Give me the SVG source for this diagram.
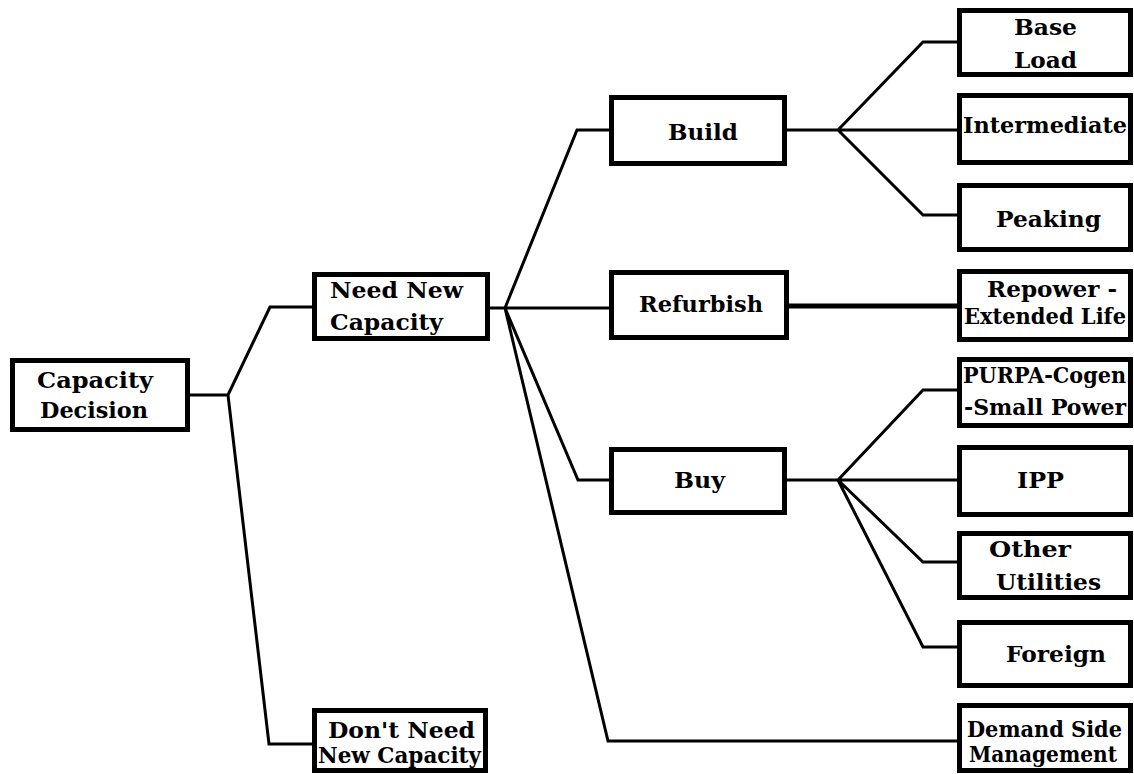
<svg xmlns="http://www.w3.org/2000/svg" width="1134" height="774" viewBox="0 0 1134 774">
<style>
.box{fill:#fff;stroke:#000;stroke-width:5}
.ln{fill:none;stroke:#000;stroke-width:3;stroke-linejoin:miter}
.thick{stroke-width:5}
text{font-family:"DejaVu Serif","Liberation Serif",serif;font-weight:bold;font-size:23px;fill:#000}
</style>
<rect width="1134" height="774" fill="#fff"/>
<g id="connectors">
<path class="ln" d="M190,395 H228 L270,307 H312 M228,395 L269,744 H312"/>
<path class="ln" d="M490,308 H609 M505,308 L577,130 H609 M505,308 L578,480 H609 M505,308 L608,741 H957"/>
<path class="ln" d="M787,130 H957 M838,130 L923,42 H957 M838,130 L923,215 H957"/>
<path class="ln thick" d="M789,306 H957"/>
<path class="ln" d="M787,480 H957 M838,480 L923,390 H957 M838,480 L923,562 H957 M838,480 L923,647 H957"/>
</g>
<g id="capacity-decision"><rect class="box" x="12.5" y="360.5" width="175" height="69"/><text x="37" y="388" textLength="116" lengthAdjust="spacingAndGlyphs">Capacity</text><text x="40" y="418" textLength="108" lengthAdjust="spacingAndGlyphs">Decision</text></g>
<g id="need-new"><rect class="box" x="314.5" y="274.5" width="173" height="64"/><text x="330" y="298" textLength="133" lengthAdjust="spacingAndGlyphs">Need New</text><text x="330" y="330" textLength="113" lengthAdjust="spacingAndGlyphs">Capacity</text></g>
<g id="dont-need"><rect class="box" x="314.5" y="710.5" width="171" height="60"/><text x="328" y="738" textLength="147" lengthAdjust="spacingAndGlyphs">Don't Need</text><text x="318" y="763" textLength="163" lengthAdjust="spacingAndGlyphs">New Capacity</text></g>
<g id="build"><rect class="box" x="611.5" y="97.5" width="173" height="66"/><text x="668" y="140" textLength="70" lengthAdjust="spacingAndGlyphs">Build</text></g>
<g id="refurbish"><rect class="box" x="611.5" y="272.5" width="175" height="65"/><text x="639" y="312" textLength="124" lengthAdjust="spacingAndGlyphs">Refurbish</text></g>
<g id="buy"><rect class="box" x="611.5" y="449.5" width="173" height="63"/><text x="674" y="488" textLength="51" lengthAdjust="spacingAndGlyphs">Buy</text></g>
<g id="base-load"><rect class="box" x="959.5" y="10.5" width="171" height="64"/><text x="1014" y="35" textLength="63" lengthAdjust="spacingAndGlyphs">Base</text><text x="1014" y="68" textLength="63" lengthAdjust="spacingAndGlyphs">Load</text></g>
<g id="intermediate"><rect class="box" x="959.5" y="95.5" width="171" height="67"/><text x="963" y="133" textLength="164" lengthAdjust="spacingAndGlyphs">Intermediate</text></g>
<g id="peaking"><rect class="box" x="959.5" y="185.5" width="171" height="64"/><text x="996" y="227" textLength="105" lengthAdjust="spacingAndGlyphs">Peaking</text></g>
<g id="repower"><rect class="box" x="959.5" y="271.5" width="171" height="68"/><text x="987" y="297" textLength="130" lengthAdjust="spacingAndGlyphs">Repower -</text><text x="964" y="324" textLength="162" lengthAdjust="spacingAndGlyphs">Extended Life</text></g>
<g id="purpa"><rect class="box" x="959.5" y="359.5" width="171" height="66"/><text x="963" y="383" textLength="163" lengthAdjust="spacingAndGlyphs">PURPA-Cogen</text><text x="964" y="415" textLength="162" lengthAdjust="spacingAndGlyphs">-Small Power</text></g>
<g id="ipp"><rect class="box" x="959.5" y="447.5" width="171" height="67"/><text x="1017" y="488" textLength="47" lengthAdjust="spacingAndGlyphs">IPP</text></g>
<g id="other-utilities"><rect class="box" x="959.5" y="533.5" width="171" height="64"/><text x="989" y="557" textLength="82" lengthAdjust="spacingAndGlyphs">Other</text><text x="996" y="590" textLength="105" lengthAdjust="spacingAndGlyphs">Utilities</text></g>
<g id="foreign"><rect class="box" x="959.5" y="622.5" width="171" height="63"/><text x="1006" y="662" textLength="100" lengthAdjust="spacingAndGlyphs">Foreign</text></g>
<g id="demand-side"><rect class="box" x="959.5" y="705.5" width="171" height="65"/><text x="967" y="737" textLength="155" lengthAdjust="spacingAndGlyphs">Demand Side</text><text x="969" y="762" textLength="148" lengthAdjust="spacingAndGlyphs">Management</text></g>
</svg>
